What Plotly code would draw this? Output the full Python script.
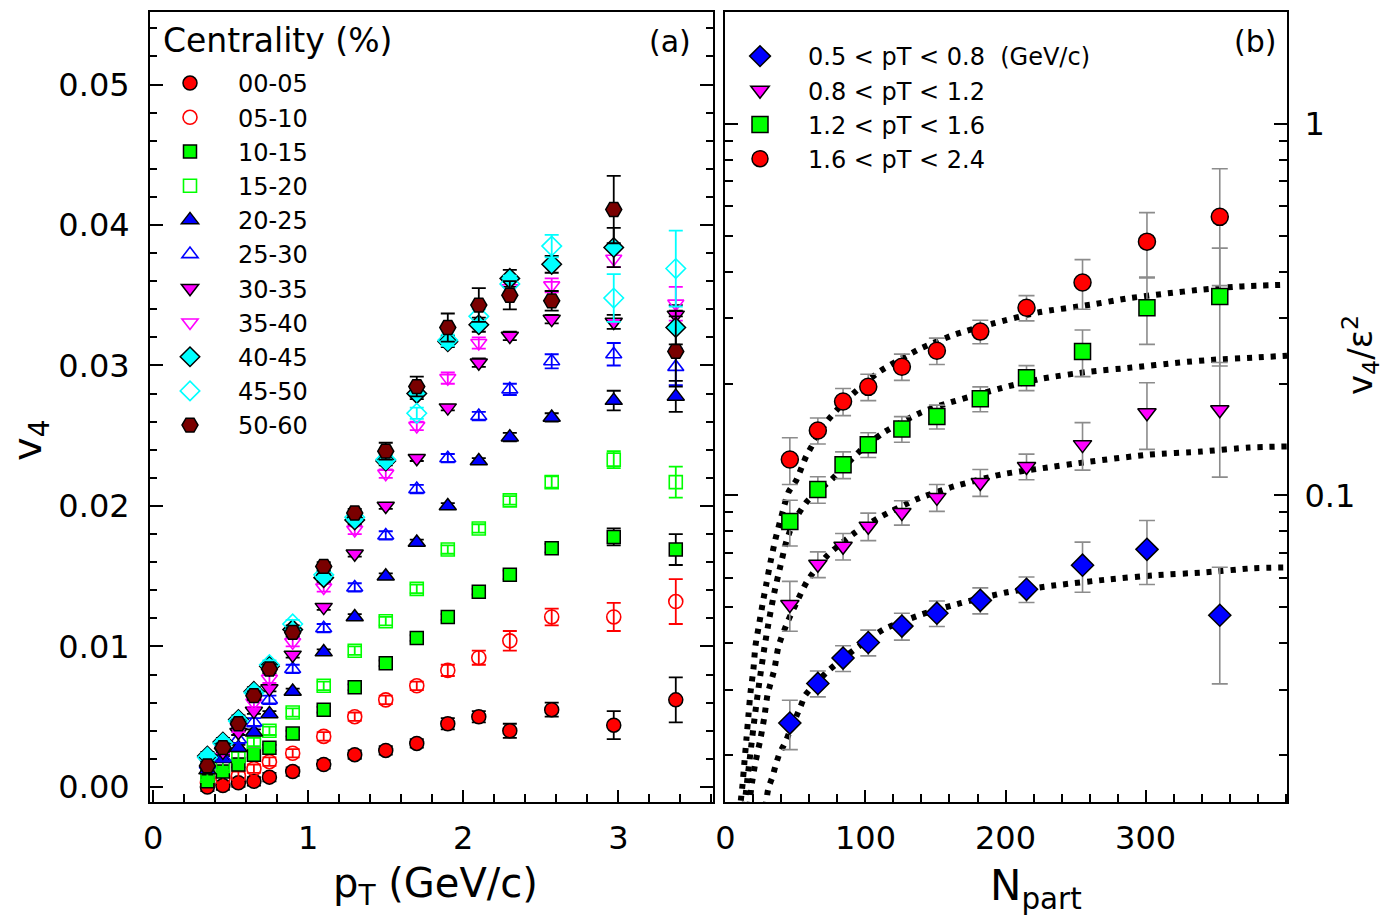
import plotly.graph_objects as go

W, H = 1388, 918

# ---------------- panel (a): v4 vs pT ----------------
pt = [0.35, 0.45, 0.55, 0.65, 0.75, 0.9, 1.1, 1.3, 1.5, 1.7, 1.9, 2.1, 2.3, 2.57, 2.97, 3.37]
cent_labels = ["00-05", "05-10", "10-15", "15-20", "20-25", "25-30",
               "30-35", "35-40", "40-45", "45-50", "50-60"]

v4_00_05 = [0.0000, 0.0001, 0.0003, 0.0004, 0.0007, 0.0011, 0.0016, 0.0023, 0.0026, 0.0031, 0.0045, 0.0050, 0.0040, 0.0055, 0.0044, 0.0062]
e_00_05 = [0.0003, 0.0003, 0.0003, 0.0003, 0.0003, 0.0003, 0.0003, 0.0003, 0.0003, 0.0003, 0.0004, 0.0004, 0.0005, 0.0005, 0.0010, 0.0016]
v4_05_10 = [0.0003, 0.0006, 0.0008, 0.0013, 0.0018, 0.0024, 0.0036, 0.0050, 0.0062, 0.0072, 0.0083, 0.0092, 0.0104, 0.0121, 0.0121, 0.0132]
e_05_10 = [0.0003, 0.0003, 0.0003, 0.0003, 0.0003, 0.0003, 0.0003, 0.0003, 0.0003, 0.0003, 0.0004, 0.0005, 0.0007, 0.0006, 0.0010, 0.0016]
v4_10_15 = [0.0004, 0.0011, 0.0016, 0.0023, 0.0028, 0.0038, 0.0055, 0.0071, 0.0088, 0.0106, 0.0121, 0.0139, 0.0151, 0.0170, 0.0178, 0.0169]
e_10_15 = [0.0002, 0.0002, 0.0002, 0.0002, 0.0002, 0.0002, 0.0002, 0.0002, 0.0002, 0.0002, 0.0002, 0.0002, 0.0003, 0.0003, 0.0006, 0.0011]
v4_15_20 = [0.0008, 0.0015, 0.0022, 0.0032, 0.0040, 0.0053, 0.0072, 0.0097, 0.0118, 0.0141, 0.0169, 0.0184, 0.0204, 0.0217, 0.0233, 0.0217]
e_15_20 = [0.0003, 0.0003, 0.0003, 0.0003, 0.0003, 0.0003, 0.0003, 0.0003, 0.0003, 0.0003, 0.0003, 0.0003, 0.0003, 0.0004, 0.0006, 0.0011]
v4_20_25 = [0.0012, 0.0020, 0.0028, 0.0039, 0.0052, 0.0068, 0.0096, 0.0121, 0.0150, 0.0174, 0.0200, 0.0232, 0.0249, 0.0263, 0.0275, 0.0278]
e_20_25 = [0.0002, 0.0002, 0.0002, 0.0002, 0.0002, 0.0002, 0.0002, 0.0002, 0.0002, 0.0002, 0.0002, 0.0002, 0.0003, 0.0003, 0.0007, 0.0011]
v4_25_30 = [0.0016, 0.0021, 0.0034, 0.0046, 0.0062, 0.0084, 0.0113, 0.0142, 0.0179, 0.0212, 0.0234, 0.0264, 0.0283, 0.0303, 0.0308, 0.0299]
e_25_30 = [0.0003, 0.0003, 0.0003, 0.0003, 0.0003, 0.0003, 0.0003, 0.0003, 0.0003, 0.0003, 0.0003, 0.0003, 0.0004, 0.0005, 0.0008, 0.0013]
v4_30_35 = [0.0018, 0.0025, 0.0039, 0.0054, 0.0070, 0.0094, 0.0128, 0.0166, 0.0200, 0.0234, 0.0270, 0.0302, 0.0321, 0.0333, 0.0331, 0.0336]
e_30_35 = [0.0002, 0.0002, 0.0002, 0.0002, 0.0002, 0.0002, 0.0002, 0.0002, 0.0002, 0.0002, 0.0002, 0.0003, 0.0003, 0.0003, 0.0005, 0.0007]
v4_35_40 = [0.0019, 0.0027, 0.0042, 0.0060, 0.0077, 0.0103, 0.0142, 0.0183, 0.0223, 0.0257, 0.0291, 0.0316, 0.0355, 0.0357, 0.0376, 0.0344]
e_35_40 = [0.0003, 0.0003, 0.0003, 0.0003, 0.0003, 0.0003, 0.0003, 0.0003, 0.0003, 0.0003, 0.0004, 0.0004, 0.0005, 0.0005, 0.0006, 0.0012]
v4_40_45 = [0.0022, 0.0032, 0.0048, 0.0068, 0.0086, 0.0112, 0.0149, 0.0190, 0.0232, 0.0280, 0.0317, 0.0329, 0.0362, 0.0372, 0.0384, 0.0327]
e_40_45 = [0.0003, 0.0003, 0.0003, 0.0003, 0.0003, 0.0003, 0.0003, 0.0003, 0.0003, 0.0004, 0.0004, 0.0005, 0.0006, 0.0006, 0.0014, 0.0012]
v4_45_50 = [0.0021, 0.0031, 0.0047, 0.0067, 0.0087, 0.0116, 0.0151, 0.0192, 0.0233, 0.0266, 0.0318, 0.0335, 0.0358, 0.0385, 0.0348, 0.0369]
e_45_50 = [0.0003, 0.0003, 0.0003, 0.0003, 0.0003, 0.0003, 0.0003, 0.0003, 0.0003, 0.0004, 0.0004, 0.0005, 0.0006, 0.0008, 0.0017, 0.0027]
v4_50_60 = [0.0015, 0.0028, 0.0045, 0.0065, 0.0084, 0.0110, 0.0157, 0.0195, 0.0239, 0.0285, 0.0327, 0.0343, 0.0350, 0.0346, 0.0411, 0.0310]
e_50_60 = [0.0003, 0.0003, 0.0003, 0.0003, 0.0003, 0.0003, 0.0003, 0.0003, 0.0006, 0.0007, 0.0010, 0.0012, 0.0010, 0.0007, 0.0024, 0.0025]

# ---------------- panel (b): v4/eps^2 vs Npart ----------------
npart = [46, 66, 84, 102, 126, 151, 182, 215, 255, 301, 353]
pt_bin_labels = ["0.5 < pT < 0.8  (GeV/c)", "0.8 < pT < 1.2", "1.2 < pT < 1.6", "1.6 < pT < 2.4"]

r_05_08 = [0.0244, 0.0312, 0.0365, 0.0402, 0.0445, 0.0482, 0.0522, 0.0559, 0.0649, 0.0716, 0.0476]
er_05_08 = [0.0037, 0.0025, 0.0029, 0.0032, 0.0037, 0.0038, 0.0042, 0.0044, 0.0100, 0.0140, 0.0165]
r_08_12 = [0.0509, 0.0653, 0.0730, 0.0826, 0.0900, 0.0988, 0.1084, 0.1197, 0.1370, 0.1670, 0.1700]
er_08_12 = [0.0078, 0.0052, 0.0060, 0.0070, 0.0068, 0.0082, 0.0090, 0.0095, 0.0200, 0.0340, 0.0580]
r_12_16 = [0.0851, 0.1038, 0.1210, 0.1370, 0.1510, 0.1630, 0.1820, 0.2075, 0.2438, 0.3200, 0.3430]
er_12_16 = [0.0120, 0.0085, 0.0100, 0.0105, 0.0120, 0.0120, 0.0140, 0.0160, 0.0350, 0.0650, 0.1200]
r_16_24 = [0.1250, 0.1496, 0.1790, 0.1960, 0.2220, 0.2450, 0.2760, 0.3200, 0.3740, 0.4820, 0.5620]
er_16_24 = [0.0180, 0.0120, 0.0150, 0.0160, 0.0180, 0.0200, 0.0200, 0.0250, 0.0570, 0.0950, 0.1950]

# dotted fit curves
fit_16_24_n = [10.0, 12.1, 13.6, 15.0, 16.4, 17.9, 20.0, 21.4, 24.3, 27.1, 29.3, 32.1, 35.7, 40.0, 45.0, 50.7, 57.9, 72.9, 87.9, 110, 137.9, 163.6, 190.7, 223.6, 260.7, 287, 313.6, 340, 366.4, 401]
fit_16_24_v = [0.0140, 0.0165, 0.0192, 0.0221, 0.0255, 0.0295, 0.0341, 0.0393, 0.0456, 0.0525, 0.0580, 0.0660, 0.0762, 0.0879, 0.1020, 0.1100, 0.1280, 0.1590, 0.1830, 0.2155, 0.2470, 0.2710, 0.2900, 0.3110, 0.3260, 0.3390, 0.3490, 0.3580, 0.3650, 0.3690]
fit_12_16_n = [13.5, 15.5, 18, 21, 24.5, 28, 31.5, 35, 39, 43, 46, 52, 58, 66, 74.3, 95.7, 112.9, 139.3, 157.9, 201.4, 226.4, 260.7, 290, 324.3, 350.7, 377, 401]
fit_12_16_v = [0.0145, 0.0170, 0.0205, 0.0255, 0.0320, 0.0393, 0.0470, 0.0550, 0.0640, 0.0740, 0.0800, 0.0890, 0.0960, 0.1030, 0.1090, 0.1313, 0.1477, 0.1670, 0.1768, 0.1964, 0.2064, 0.2155, 0.2208, 0.2279, 0.2322, 0.2349, 0.2377]
fit_08_12_n = [17.0, 18.6, 21.4, 25.0, 27.9, 30.0, 35.0, 37.9, 44.3, 50.7, 58.6, 72.9, 92.9, 110, 136.4, 163, 197, 223.6, 260.7, 302.9, 340, 374, 401]
fit_08_12_v = [0.0145, 0.0165, 0.0191, 0.0221, 0.0255, 0.0290, 0.0341, 0.0393, 0.0456, 0.0514, 0.0590, 0.0690, 0.0796, 0.0873, 0.0976, 0.1057, 0.1139, 0.1180, 0.1234, 0.1288, 0.1313, 0.1346, 0.1355]
fit_05_08_n = [28.5, 30.7, 33.6, 35.7, 38.6, 42.9, 46, 53.6, 57, 72.9, 87.9, 112.9, 140.7, 167.9, 201.4, 235.7, 272.9, 307, 342.9, 377, 401]
fit_05_08_v = [0.0145, 0.0163, 0.0175, 0.0187, 0.0202, 0.0217, 0.0232, 0.0270, 0.0290, 0.0336, 0.0374, 0.0436, 0.0479, 0.0513, 0.0549, 0.0573, 0.0594, 0.0610, 0.0621, 0.0637, 0.0640]

# axis ticks
left_x_ticks = [0, 1, 2, 3]
left_y_ticks = [0.00, 0.01, 0.02, 0.03, 0.04, 0.05]
right_x_ticks = [0, 100, 200, 300]
right_y_ticks = [0.1, 1]
right_y_minor = [0.02, 0.03, 0.04, 0.05, 0.06, 0.07, 0.08, 0.09,
                 0.2, 0.3, 0.4, 0.5, 0.6, 0.7, 0.8, 0.9, 2]

FONT = "DejaVu Sans"
RED, LIME, BLUE, MAG, CYAN, MAROON = "#ff0000", "#00ff00", "#0000ff", "#ff00ff", "#00ffff", "#7a0000"

fig = go.Figure()

left_series = [
    (v4_00_05, e_00_05, "circle", RED, True, 14),
    (v4_05_10, e_05_10, "circle-open", RED, False, 14),
    (v4_10_15, e_10_15, "square", LIME, True, 13),
    (v4_15_20, e_15_20, "square-open", LIME, False, 13),
    (v4_20_25, e_20_25, "triangle-up", BLUE, True, 15),
    (v4_25_30, e_25_30, "triangle-up-open", BLUE, False, 14),
    (v4_30_35, e_30_35, "triangle-down", MAG, True, 15),
    (v4_35_40, e_35_40, "triangle-down-open", MAG, False, 14),
    (v4_40_45, e_40_45, "diamond", CYAN, True, 15),
    (v4_45_50, e_45_50, "diamond-open", CYAN, False, 15),
    (v4_50_60, e_50_60, "hexagon2", MAROON, True, 16),
]
for lab, (vals, errs, sym, col, filled, sz) in zip(cent_labels, left_series):
    if filled:
        marker = dict(symbol=sym, size=sz, color=col, line=dict(color="black", width=1.5))
        ecol = "black"
    else:
        marker = dict(symbol=sym, size=sz, color=col, line=dict(color=col, width=1.6))
        ecol = col
    fig.add_trace(go.Scatter(
        x=pt, y=vals, mode="markers", name=lab, marker=marker,
        error_y=dict(type="data", array=errs, color=ecol, thickness=1.8, width=7),
        xaxis="x", yaxis="y", legend="legend"))

fits = [
    (fit_05_08_n, fit_05_08_v), (fit_08_12_n, fit_08_12_v),
    (fit_12_16_n, fit_12_16_v), (fit_16_24_n, fit_16_24_v),
]
for fn, fv in fits:
    fig.add_trace(go.Scatter(
        x=fn, y=fv, mode="lines", showlegend=False, hoverinfo="skip",
        line=dict(color="black", width=6, dash="5px,7px", shape="spline", smoothing=0.6),
        xaxis="x2", yaxis="y2"))

right_series = [
    (r_05_08, er_05_08, "diamond", BLUE, 17),
    (r_08_12, er_08_12, "triangle-down", MAG, 16),
    (r_12_16, er_12_16, "square", LIME, 16),
    (r_16_24, er_16_24, "circle", RED, 17),
]
for lab, (vals, errs, sym, col, sz) in zip(pt_bin_labels, right_series):
    fig.add_trace(go.Scatter(
        x=npart, y=vals, mode="markers", name=lab,
        marker=dict(symbol=sym, size=sz, color=col, line=dict(color="black", width=1.5)),
        error_y=dict(type="data", array=errs, color="#8c8c8c", thickness=1.6, width=8),
        xaxis="x2", yaxis="y2", legend="legend2"))

def px_x(p):
    return p / W

def px_y(p):
    return 1 - p / H

ydom = [px_y(802), px_y(12)]
tickfont = dict(family=FONT, size=32, color="black")
common = dict(showline=True, linecolor="black", linewidth=2, ticks="inside",
              tickcolor="black", tickwidth=1.5, showgrid=False, zeroline=False,
              tickfont=tickfont, automargin=False)

fig.update_layout(
    width=W, height=H, margin=dict(l=0, r=0, t=0, b=0, autoexpand=False),
    paper_bgcolor="white", plot_bgcolor="white",
    showlegend=True,
    xaxis=dict(domain=[px_x(150), px_x(713)], range=[-0.02, 3.61],
               tickvals=left_x_ticks, ticklen=12, mirror=True,
               minor=dict(dtick=0.2, tick0=0, ticks="inside", ticklen=8, tickcolor="black", tickwidth=1.5),
               ticklabelstandoff=7, anchor="y", **common),
    yaxis=dict(domain=ydom, range=[-0.00107, 0.05516],
               tickvals=left_y_ticks, tickformat=".2f", ticklen=13, mirror="ticks",
               minor=dict(dtick=0.002, tick0=0, ticks="inside", ticklen=7, tickcolor="black", tickwidth=1.5),
               ticklabelstandoff=12, anchor="x", **common),
    xaxis2=dict(domain=[px_x(725), px_x(1287)], range=[-0.3, 401],
                tickvals=right_x_ticks, ticklen=12, mirror=True,
                minor=dict(dtick=20, tick0=0, ticks="inside", ticklen=8, tickcolor="black", tickwidth=1.5),
                ticklabelstandoff=7, anchor="y2", **common),
    yaxis2=dict(domain=ydom, type="log", range=[-1.825, 0.301], side="right",
                tickvals=right_y_ticks, ticktext=["0.1", "1"], ticklen=13, mirror="ticks",
                minor=dict(tickvals=right_y_minor, ticks="inside", ticklen=8, tickcolor="black", tickwidth=1.5),
                ticklabelstandoff=9, anchor="x2", **common),
    legend=dict(x=px_x(142), y=px_y(61), xanchor="left", yanchor="top",
                bgcolor="rgba(0,0,0,0)", borderwidth=0, itemwidth=86,
                font=dict(family=FONT, size=24, color="black"), tracegroupgap=0),
    legend2=dict(x=px_x(712), y=px_y(34), xanchor="left", yanchor="top",
                 bgcolor="rgba(0,0,0,0)", borderwidth=0, itemwidth=86,
                 font=dict(family=FONT, size=24, color="black"), tracegroupgap=0),
)

annotations = [
    dict(text="Centrality (%)", x=px_x(161), y=px_y(40), xanchor="left", yanchor="middle", size=33),
    dict(text="(a)", x=px_x(670), y=px_y(42), xanchor="center", yanchor="middle", size=30),
    dict(text="(b)", x=px_x(1255), y=px_y(42), xanchor="center", yanchor="middle", size=30),
    dict(text="p<sub>T</sub> (GeV/c)", x=px_x(435), y=px_y(886), xanchor="center", yanchor="middle", size=40),
    dict(text="N<sub>part</sub>", x=px_x(1036), y=px_y(888), xanchor="center", yanchor="middle", size=42),
    dict(text="v<sub>4</sub>", x=px_x(30), y=px_y(440), xanchor="center", yanchor="middle", size=40, textangle=-90),
    dict(text="v<sub>4</sub>/ε<sup>2</sup>", x=px_x(1360), y=px_y(355), xanchor="center", yanchor="middle", size=34, textangle=-90),
]
for a in annotations:
    size = a.pop("size")
    fig.add_annotation(xref="paper", yref="paper", showarrow=False,
                       font=dict(family=FONT, size=size, color="black"), **a)

fig.write_html("out.html")
